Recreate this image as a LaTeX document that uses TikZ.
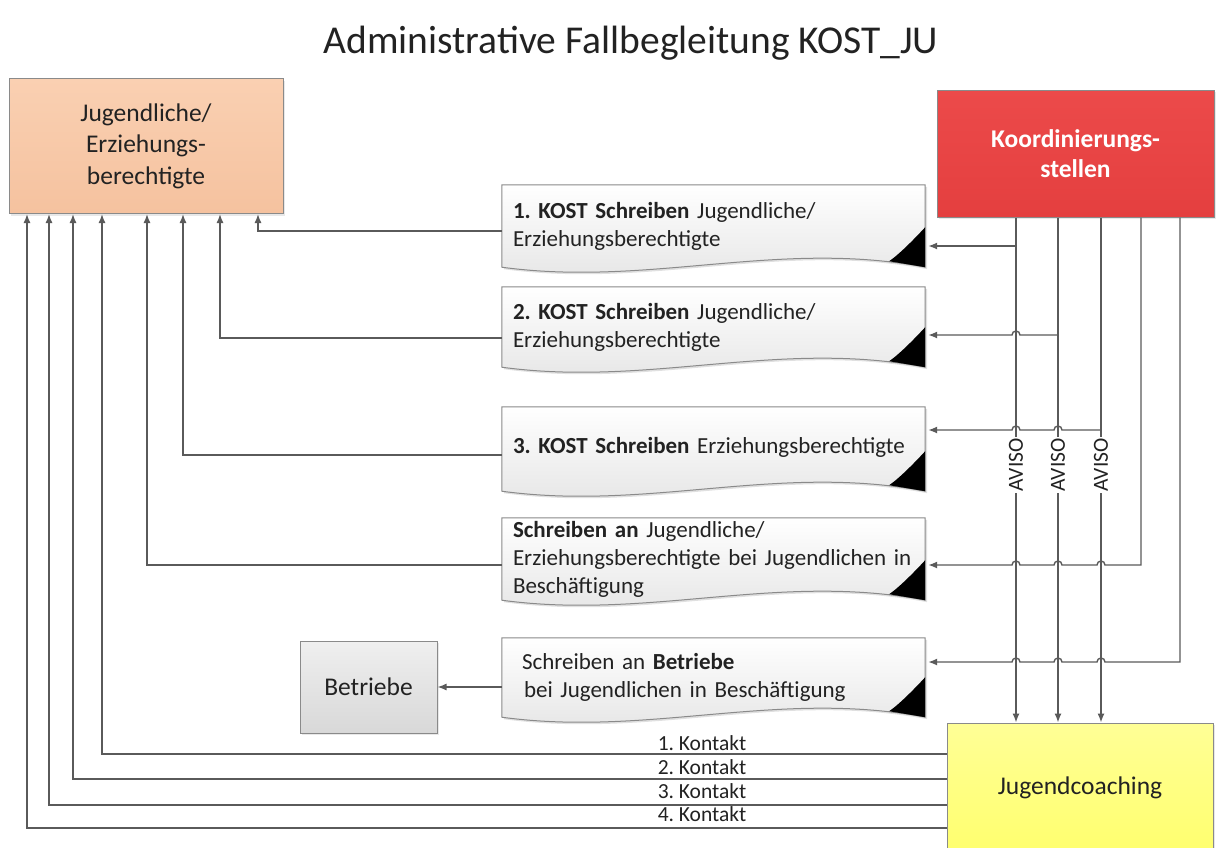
\documentclass[tikz,border=0pt]{standalone}
\usepackage{fontspec}
\setmainfont{Carlito}
\usetikzlibrary{calc,arrows.meta,shadows}
\pgfdeclarelayer{background}
\pgfsetlayers{background,main}
\frenchspacing
\definecolor{lc}{HTML}{5A5A5A}
\definecolor{bc}{HTML}{8A8A8A}
\definecolor{peachT}{HTML}{FAD0B2}
\definecolor{peachB}{HTML}{F5C29F}
\definecolor{redT}{HTML}{EC4A4A}
\definecolor{redB}{HTML}{E43F3F}
\definecolor{yelT}{HTML}{FFFF96}
\definecolor{yelB}{HTML}{FFFF6E}
\definecolor{grT}{HTML}{EFEFEF}
\definecolor{grB}{HTML}{D8D8D8}
\definecolor{docB}{HTML}{E4E4E4}
\definecolor{txt}{HTML}{222222}
\newcommand{\docdeco}[1]{%
  \path[fill=black, opacity=0.12] ($(#1.north west)+(2,2)$) -- ($(#1.north east)+(2,2)$) -- ($(#1.south east)+(2,2)$)
    .. controls ($(#1.south east)+(-146,-26)$) and ($(#1.south west)+(150,22)$) .. ($(#1.south west)+(2,2)$) -- cycle;
  \path[draw=bc, line width=1pt, top color=white, bottom color=docB]
    (#1.north west) -- (#1.north east) -- (#1.south east)
    .. controls ($(#1.south east)+(-148,-28)$) and ($(#1.south west)+(148,20)$) .. (#1.south west) -- cycle;
  \fill[black] ($(#1.south east)+(0,-40)$) .. controls ($(#1.south east)+(-12,-27)$) and ($(#1.south east)+(-26,-13)$) .. ($(#1.south east)+(-36,-6)$) -- (#1.south east) -- cycle;
}
\begin{document}
\begin{tikzpicture}[x=1pt,y=-1pt,
  line/.style={draw=lc, line width=1.4pt},
  arr/.style={line, -{Latex[length=9pt,width=7pt]}},
  box/.style={draw=bc, line width=1pt, inner sep=0pt, align=center, text=txt,
    drop shadow={opacity=0.18, shadow xshift=2pt, shadow yshift=-2pt}},
  docnode/.style={minimum width=423pt, text width=401pt, inner xsep=11pt, inner ysep=0pt,
    align=left, text=txt, font=\fontsize{23}{28}\selectfont},
  aviso/.style={rotate=90, fill=white, inner xsep=1pt, inner ysep=0.5pt, text=txt, font=\fontsize{21.5}{24}\selectfont},
  klabel/.style={anchor=base, inner sep=0pt, text=txt, font=\fontsize{21.5}{24}\selectfont}
]
\useasboundingbox (0,0) rectangle (1216,847);

% title
\node[anchor=base, inner sep=0pt, text=txt, font=\fontsize{39.5}{44}\selectfont] (title) at (631,53) {Administrative Fallbegleitung KOST\_JU};

% boxes
\node[box, top color=peachT, bottom color=peachB, minimum width=274pt, minimum height=135pt,
  font=\fontsize{25.5}{31.5}\selectfont] (je) at (146,146) {Jugendliche/\\Erziehungs-\\berechtigte};
\node[box, top color=redT, bottom color=redB, minimum width=277pt, minimum height=127pt,
  text=white, font=\bfseries\fontsize{25.5}{30}\selectfont] (kc) at (1075.5,153.5) {Koordinierungs-\\stellen};
\node[box, top color=yelT, bottom color=yelB, minimum width=266pt, minimum height=130pt,
  font=\fontsize{25.5}{30}\selectfont] (jc) at (1080,788) {Jugendcoaching};
\node[box, top color=grT, bottom color=grB, minimum width=137pt, minimum height=92pt,
  font=\fontsize{25.5}{30}\selectfont] (bt) at (368.5,687) {Betriebe};

% documents
\node[docnode, minimum height=82pt] (d1) at (713.5,226) {\textbf{1. KOST Schreiben} Jugendliche/\\Erziehungsberechtigte};
\node[docnode, minimum height=80pt] (d2) at (713.5,327) {\textbf{2. KOST Schreiben} Jugendliche/\\Erziehungsberechtigte};
\node[docnode, minimum height=84pt] (d3) at (713.5,449) {\raisebox{7pt}{\textbf{3. KOST Schreiben} Erziehungsberechtigte}};
\node[docnode, minimum height=82pt] (d4) at (713.5,559) {\textbf{Schreiben an} Jugendliche/\\Erziehungsberechtigte bei Jugendlichen in\\Beschäftigung};
\node[docnode, minimum height=79pt, inner xsep=20pt, text width=383pt] (d5) at (713.5,677.5) {Schreiben an \textbf{Betriebe}\\\hspace*{2pt}bei Jugendlichen in Beschäftigung};
\begin{pgfonlayer}{background}
\fill[white] (0,0) rectangle (1216,847);
\docdeco{d1}\docdeco{d2}\docdeco{d3}\docdeco{d4}\docdeco{d5}
\end{pgfonlayer}

% coordinates
\coordinate (v1) at (1016,0);
\coordinate (v2) at (1058,0);
\coordinate (v3) at (1101,0);
\coordinate (v4) at (1141,0);
\coordinate (v5) at (1180,0);
\coordinate (j1) at (1016,246);
\coordinate (j2) at (1058,335);
\coordinate (j3) at (1101,430);
\coordinate (j4) at (1141,565);
\coordinate (j5) at (1180,662);

% verticals from Koordinierungsstellen to Jugendcoaching
\draw[arr] (v1 |- kc.south) -- (v1 |- jc.north);
\draw[arr] (v2 |- kc.south) -- (v2 |- jc.north);
\draw[arr] (v3 |- kc.south) -- (v3 |- jc.north);

% branches to documents
\draw[arr, shorten >=3pt] (j1) -- (j1 -| d1.east);
\draw[arr, shorten >=3pt] (j2) -- (1020,335) arc[start angle=0, end angle=180, radius=4pt] -- (j2 -| d2.east);
\draw[arr, shorten >=3pt] (j3) -- (1062,430) arc[start angle=0, end angle=180, radius=4pt]
  -- (1020,430) arc[start angle=0, end angle=180, radius=4pt] -- (j3 -| d3.east);
\draw[arr, shorten >=3pt] (v4 |- kc.south) -- (j4) -- (1105,565) arc[start angle=0, end angle=180, radius=4pt]
  -- (1062,565) arc[start angle=0, end angle=180, radius=4pt]
  -- (1020,565) arc[start angle=0, end angle=180, radius=4pt] -- (j4 -| d4.east);
\draw[arr, shorten >=3pt] (v5 |- kc.south) -- (j5) -- (1105,662) arc[start angle=0, end angle=180, radius=4pt]
  -- (1062,662) arc[start angle=0, end angle=180, radius=4pt]
  -- (1020,662) arc[start angle=0, end angle=180, radius=4pt] -- (j5 -| d5.east);

% AVISO labels
\node[aviso] (av1) at (1016,465) {AVISO};
\node[aviso] (av2) at (1058,465) {AVISO};
\node[aviso] (av3) at (1101,465) {AVISO};

% documents to Jugendliche/Erziehungsberechtigte
\coordinate (a1) at (258,231);
\coordinate (a2) at (220,338);
\coordinate (a3) at (183,455);
\coordinate (a4) at (147,565);
\draw[arr] (d1.west |- a1) -- (a1) -- (a1 |- je.south);
\draw[arr] (d2.west |- a2) -- (a2) -- (a2 |- je.south);
\draw[arr] (d3.west |- a3) -- (a3) -- (a3 |- je.south);
\draw[arr] (d4.west |- a4) -- (a4) -- (a4 |- je.south);

% document to Betriebe
\draw[arr] (d5.west |- bt.east) -- (bt.east);

% Kontakt lines
\coordinate (k1) at (102,754);
\coordinate (k2) at (73,779);
\coordinate (k3) at (49,805);
\coordinate (k4) at (27,828);
\draw[arr] (jc.west |- k1) -- (k1) -- (k1 |- je.south);
\draw[arr] (jc.west |- k2) -- (k2) -- (k2 |- je.south);
\draw[arr] (jc.west |- k3) -- (k3) -- (k3 |- je.south);
\draw[arr] (jc.west |- k4) -- (k4) -- (k4 |- je.south);
\node[klabel] (kl1) at (702,750) {1. Kontakt};
\node[klabel] (kl2) at (702,774) {2. Kontakt};
\node[klabel] (kl3) at (702,798) {3. Kontakt};
\node[klabel] (kl4) at (702,821) {4. Kontakt};
\end{tikzpicture}
\end{document}
